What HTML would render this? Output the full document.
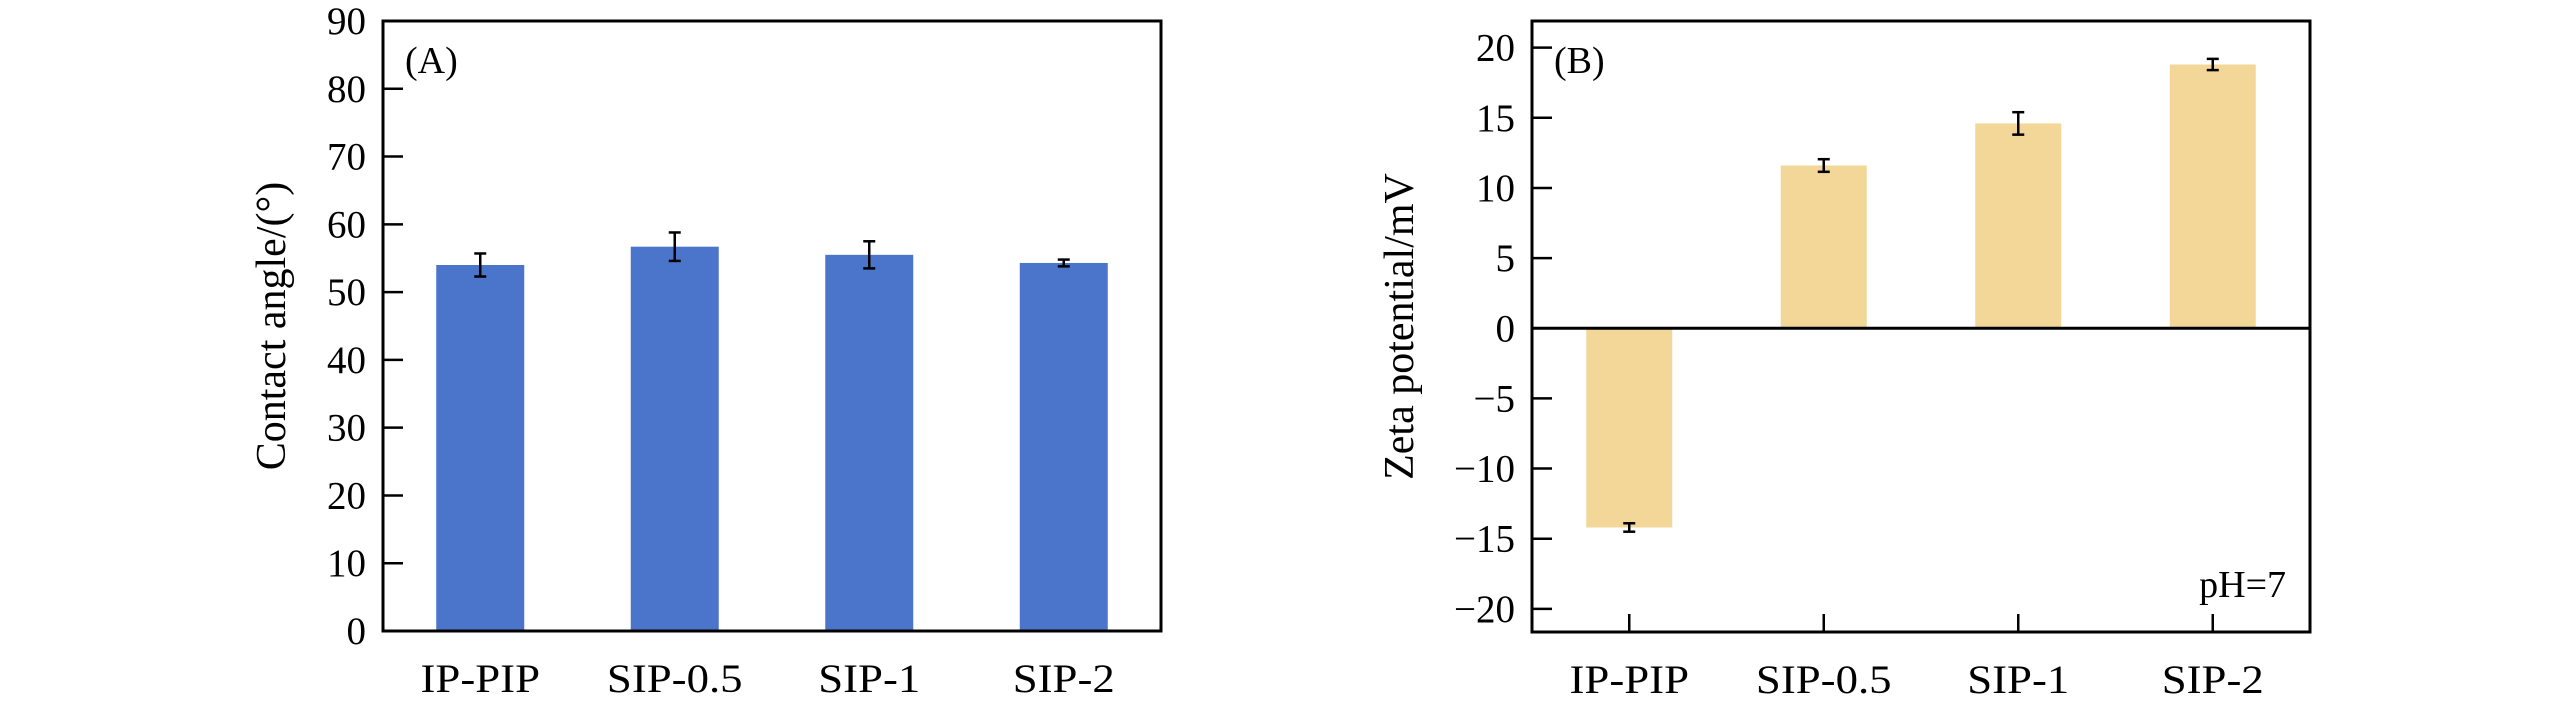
<!DOCTYPE html>
<html><head><meta charset="utf-8"><style>
body{margin:0;background:#fff}
svg text{font-family:"Liberation Serif",serif;fill:#000}
</style></head><body>
<svg id="chart" width="2567" height="709" viewBox="0 0 2567 709" xmlns="http://www.w3.org/2000/svg">
</svg>
<script>
const categories = ["IP-PIP","SIP-0.5","SIP-1","SIP-2"];
const angleValues = [54.0, 56.7, 55.5, 54.3];
const angleErrors = [1.7, 2.1, 2.0, 0.5];
const angleTicks = [0,10,20,30,40,50,60,70,80,90];
const zetaValues = [-14.2, 11.6, 14.6, 18.8];
const zetaErrors = [0.3, 0.45, 0.8, 0.4];
const zetaTicks = [-20,-15,-10,-5,0,5,10,15,20];

const svg = document.getElementById('chart');
const NS = 'http://www.w3.org/2000/svg';
function mk(tag, attrs, parent, text){
  const e = document.createElementNS(NS, tag);
  for (const k in attrs) e.setAttribute(k, attrs[k]);
  if (text !== undefined) e.textContent = text;
  (parent||svg).appendChild(e);
  return e;
}

function panel(opts){
  const g = mk('g', {});
  
  
  const {L,R,T,B,ymin,ymax} = opts;
  const y = v => B - (v - ymin) / (ymax - ymin) * (B - T);
  const step = (R - L) / categories.length;
  const x = i => L + step * (i + 0.5);
  opts.values.forEach((v,i)=>{
    const y0 = y(0), y1 = y(v);
    const r = mk('rect', {x: x(i)-opts.bw/2, y: Math.min(y0,y1), width: opts.bw, height: Math.abs(y1-y0), fill: opts.color}, g);
    
    
    const e = opts.errors[i];
    const eg = mk('g', {stroke:'#000','stroke-width':2.5}, g);
    
    
    mk('line', {x1:x(i),x2:x(i),y1:y(v-e),y2:y(v+e)}, eg);
    mk('line', {x1:x(i)-6,x2:x(i)+6,y1:y(v-e),y2:y(v-e)}, eg);
    mk('line', {x1:x(i)-6,x2:x(i)+6,y1:y(v+e),y2:y(v+e)}, eg);
    const t = mk('text', {x:x(i), y:B+61, 'font-size':40, 'text-anchor':'middle', transform:`translate(${x(i)},0) scale(1.12,1) translate(${-x(i)},0)`}, g, categories[i]);
    
    
    if (opts.xticks){
      mk('line', {x1:x(i),x2:x(i),y1:B,y2:B-18,stroke:'#000','stroke-width':2.5}, g);
    }
  });
  opts.ticks.forEach(tv=>{
    mk('line', {x1:L,x2:L+20,y1:y(tv),y2:y(tv),stroke:'#000','stroke-width':2.5}, g);
    const t = mk('text', {x:L-17, y:y(tv)+13, 'font-size':39, 'text-anchor':'end'}, g, tv < 0 ? '\u2212' + Math.abs(tv) : String(tv));
    
    
  });
  if (opts.zeroLine){
    const zl = mk('line', {x1:L,x2:R,y1:y(0),y2:y(0),stroke:'#000','stroke-width':3}, g);
    
    
  }
  const fr = mk('rect', {x:L,y:T,width:R-L,height:B-T,fill:'none',stroke:'#000','stroke-width':3}, g);
  
  
  const yt = mk('text', {x:0,y:0,'font-size':42,'text-anchor':'middle',transform:`translate(${opts.titleX},${(T+B)/2}) rotate(-90)`}, g, opts.title);
  
  
  const pl = mk('text', {x:L+22, y:T+52, 'font-size':38}, g, opts.label);
  
  
  return {g, y};
}

panel({name:'contact-angle-chart', L:383, R:1161, T:21, B:631, ymin:0, ymax:90, bw:88,
  values:angleValues, errors:angleErrors, ticks:angleTicks, color:'#4a75ca',
  title:'Contact angle/(°)', titleX:285, label:'(A)', xticks:false, zeroLine:false});

const pb = panel({name:'zeta-potential-chart', L:1532, R:2310, T:21, B:632, ymin:-21.65, ymax:21.9, bw:86,
  values:zetaValues, errors:zetaErrors, ticks:zetaTicks, color:'#f2d799',
  title:'Zeta potential/mV', titleX:1413, label:'(B)', xticks:true, zeroLine:true});
const ph = mk('text', {x:2286, y:597, 'font-size':38, 'text-anchor':'end'}, pb.g, 'pH=7');


</script>
</body></html>
